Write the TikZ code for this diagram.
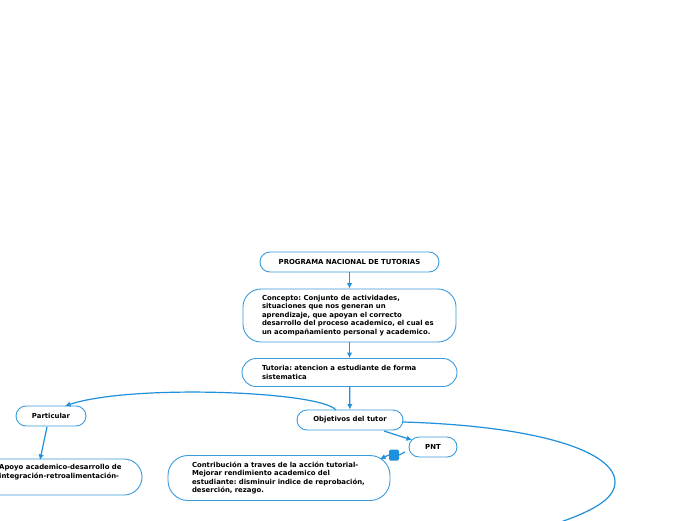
\documentclass[tikz,border=0pt]{standalone}
\usepackage{fontspec}
\setmainfont{DejaVu Sans}[BoldFont={DejaVu Sans Bold}]
\usetikzlibrary{arrows.meta}
\definecolor{mmblue}{HTML}{1E90DC}
\definecolor{mmedge}{HTML}{3A9BDC}
\frenchspacing
\begin{document}
\begin{tikzpicture}[x=1pt,y=-1pt,
  every node/.style={font=\fontsize{6.9}{8.6}\selectfont\bfseries\frenchspacing, text=black},
  box/.style={draw=mmedge, line width=0.9pt, fill=white, align=left},
  conn/.style={draw=mmblue, line width=1.2pt, -{Latex[length=5.5pt,width=5.5pt]}},
  plain/.style={draw=mmblue, line width=1.2pt}]
\useasboundingbox (0,0) rectangle (696,520);
\fill[white] (0,0) rectangle (696,520);

\node[box, rounded corners=10pt, minimum width=179pt, minimum height=20pt, align=center] (prog) at (349.5,262) {PROGRAMA NACIONAL DE TUTORIAS};
\node[box, rounded corners=18pt, text width=175pt, inner xsep=19pt, minimum height=53pt] (conc) at (349.5,315.5)
  {Concepto: Conjunto de actividades,\\situaciones que nos generan un\\aprendizaje, que apoyan el correcto\\desarrollo del proceso academico, el cual es\\un acompañamiento personal y academico.};
\node[box, rounded corners=14pt, text width=175pt, inner xsep=20pt, minimum height=28pt] (tut) at (349.5,372.5)
  {Tutoria: atencion a estudiante de forma\\sistematica};
\node[box, rounded corners=10pt, minimum width=106pt, minimum height=20pt, align=center] (obj) at (350,420) {Objetivos del tutor};
\node[box, rounded corners=10pt, minimum width=70pt, minimum height=20pt, align=center] (part) at (51,416) {Particular};
\node[box, rounded corners=10pt, minimum width=48pt, minimum height=20pt, align=center] (pnt) at (433,447) {PNT};
\node[box, rounded corners=20pt, text width=174pt, inner xsep=24pt, minimum height=45pt] (contr) at (279,478)
  {Contribución a traves de la acción tutorial-\\Mejorar rendimiento academico del\\estudiante: disminuir indice de reprobación,\\deserción, rezago.};
\node[box, rounded corners=18pt, minimum width=202pt, minimum height=36pt] (apoyo) at (41,477) {};
\node[anchor=north west, align=left, inner sep=0pt] (apoyotext) at (-1,464)
  {Apoyo academico-desarrollo de\\integración-retroalimentación-};
\node[fill=mmblue, rounded corners=1.5pt, minimum width=10pt, minimum height=11pt, inner sep=0pt] (sq) at (394,455) {};

\coordinate (bigend) at (555,524);
\coordinate (objtop) at (336,410);
\coordinate (parttop) at (65,406);
\coordinate (partbot) at (47,427);
\coordinate (apoyotop) at (40,460);
\coordinate (objlow) at (384,431);
\coordinate (pntin) at (412,440);
\coordinate (pntw) at (405,452);
\coordinate (contrin) at (380,459);
\coordinate (obje) at (403,422);

\draw[conn] (prog) -- (conc);
\draw[conn] (conc) -- (tut);
\draw[conn] (tut) -- (obj);
\draw[conn] (objtop) .. controls (320,391) and (130,384) .. (parttop);
\draw[conn] (partbot) -- (apoyotop);
\draw[conn] (objlow) -- (pntin);
\draw[plain] (pntw) -- (sq.east);
\draw[conn] (sq.west) -- (contrin);
\draw[plain] (obje) .. controls (540,426) and (615,452) .. (615,482) .. controls (615,500) and (590,512) .. (bigend);
\end{tikzpicture}
\end{document}
